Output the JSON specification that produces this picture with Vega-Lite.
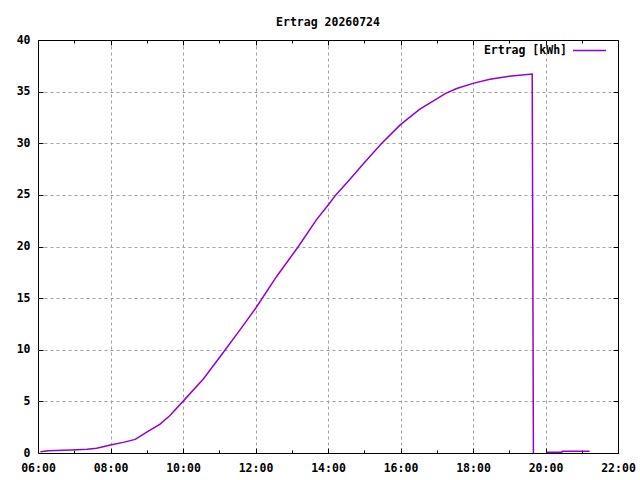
{
  "$schema": "https://vega.github.io/schema/vega-lite/v6.json",
  "width": 580,
  "height": 413,
  "autosize": "none",
  "padding": {"left": 38, "top": 40, "right": 22, "bottom": 27},
  "background": "white",
  "title": {"text": "Ertrag 20260724", "font": "DejaVu Sans Mono", "fontSize": 11.5, "fontWeight": "bold", "color": "black", "offset": -4, "baseline": "alphabetic", "anchor": "middle", "frame": "group"},
  "config": {
    "view": {"stroke": "black", "strokeWidth": 1},
    "axis": {
      "labelFont": "DejaVu Sans Mono", "labelFontSize": 11.5, "labelFontWeight": "bold", "labelColor": "black",
      "tickColor": "black", "tickWidth": 1, "domain": false, "gridColor": "#a0a0a0", "gridDash": [3, 3], "gridWidth": 1, "title": null
    }
  },
  "data": {"values": [
    {"t": "2026-07-24T06:04", "v": 0.13, "seg": 1},
    {"t": "2026-07-24T06:17", "v": 0.22, "seg": 1},
    {"t": "2026-07-24T06:56", "v": 0.30, "seg": 1},
    {"t": "2026-07-24T07:21", "v": 0.36, "seg": 1},
    {"t": "2026-07-24T07:37", "v": 0.45, "seg": 1},
    {"t": "2026-07-24T08:00", "v": 0.77, "seg": 1},
    {"t": "2026-07-24T08:21", "v": 1.03, "seg": 1},
    {"t": "2026-07-24T08:41", "v": 1.32, "seg": 1},
    {"t": "2026-07-24T09:00", "v": 2.03, "seg": 1},
    {"t": "2026-07-24T09:22", "v": 2.8, "seg": 1},
    {"t": "2026-07-24T09:38", "v": 3.6, "seg": 1},
    {"t": "2026-07-24T10:00", "v": 5.0, "seg": 1},
    {"t": "2026-07-24T10:34", "v": 7.2, "seg": 1},
    {"t": "2026-07-24T11:10", "v": 10.0, "seg": 1},
    {"t": "2026-07-24T11:34", "v": 11.9, "seg": 1},
    {"t": "2026-07-24T12:00", "v": 14.0, "seg": 1},
    {"t": "2026-07-24T12:35", "v": 17.1, "seg": 1},
    {"t": "2026-07-24T13:11", "v": 20.0, "seg": 1},
    {"t": "2026-07-24T13:41", "v": 22.6, "seg": 1},
    {"t": "2026-07-24T14:00", "v": 24.0, "seg": 1},
    {"t": "2026-07-24T14:13", "v": 25.0, "seg": 1},
    {"t": "2026-07-24T14:36", "v": 26.5, "seg": 1},
    {"t": "2026-07-24T15:00", "v": 28.1, "seg": 1},
    {"t": "2026-07-24T15:29", "v": 30.0, "seg": 1},
    {"t": "2026-07-24T16:00", "v": 31.8, "seg": 1},
    {"t": "2026-07-24T16:32", "v": 33.3, "seg": 1},
    {"t": "2026-07-24T17:00", "v": 34.3, "seg": 1},
    {"t": "2026-07-24T17:14", "v": 34.8, "seg": 1},
    {"t": "2026-07-24T17:33", "v": 35.3, "seg": 1},
    {"t": "2026-07-24T18:00", "v": 35.8, "seg": 1},
    {"t": "2026-07-24T18:28", "v": 36.2, "seg": 1},
    {"t": "2026-07-24T19:00", "v": 36.5, "seg": 1},
    {"t": "2026-07-24T19:38", "v": 36.7, "seg": 1},
    {"t": "2026-07-24T19:39", "v": 18.4, "seg": 1},
    {"t": "2026-07-24T19:40", "v": 0, "seg": 1},
    {"t": "2026-07-24T20:02", "v": 0.07, "seg": 2},
    {"t": "2026-07-24T20:27", "v": 0.07, "seg": 2},
    {"t": "2026-07-24T20:28", "v": 0.17, "seg": 2},
    {"t": "2026-07-24T21:13", "v": 0.17, "seg": 2}
  ]},
  "layer": [
    {
      "mark": {"type": "line", "strokeWidth": 1.5, "clip": true},
      "encoding": {
        "x": {"field": "t", "type": "temporal",
          "scale": {"domain": [{"year": 2026, "month": 7, "date": 24, "hours": 6}, {"year": 2026, "month": 7, "date": 24, "hours": 22}]},
          "axis": {"orient": "bottom",
            "values": [
              {"year": 2026, "month": 7, "date": 24, "hours": 6}, {"year": 2026, "month": 7, "date": 24, "hours": 7},
              {"year": 2026, "month": 7, "date": 24, "hours": 8}, {"year": 2026, "month": 7, "date": 24, "hours": 9},
              {"year": 2026, "month": 7, "date": 24, "hours": 10}, {"year": 2026, "month": 7, "date": 24, "hours": 11},
              {"year": 2026, "month": 7, "date": 24, "hours": 12}, {"year": 2026, "month": 7, "date": 24, "hours": 13},
              {"year": 2026, "month": 7, "date": 24, "hours": 14}, {"year": 2026, "month": 7, "date": 24, "hours": 15},
              {"year": 2026, "month": 7, "date": 24, "hours": 16}, {"year": 2026, "month": 7, "date": 24, "hours": 17},
              {"year": 2026, "month": 7, "date": 24, "hours": 18}, {"year": 2026, "month": 7, "date": 24, "hours": 19},
              {"year": 2026, "month": 7, "date": 24, "hours": 20}, {"year": 2026, "month": 7, "date": 24, "hours": 21},
              {"year": 2026, "month": 7, "date": 24, "hours": 22}
            ],
            "labelExpr": "hours(datum.value) % 2 == 0 ? timeFormat(datum.value, '%H:%M') : ''",
            "labelBaseline": "alphabetic", "labelPadding": 23, "labelFlush": false, "labelOverlap": false,
            "tickSize": {"condition": {"test": "hours(datum.value) % 2 == 1", "value": -3}, "value": -5},
            "grid": true,
            "gridOpacity": {"condition": {"test": "hours(datum.value) % 2 == 1 || hours(datum.value) == 6 || hours(datum.value) == 22", "value": 0}, "value": 1}
          }
        },
        "y": {"field": "v", "type": "quantitative",
          "scale": {"domain": [0, 40], "nice": false, "zero": true},
          "axis": {"orient": "left", "values": [0, 5, 10, 15, 20, 25, 30, 35, 40], "format": "d",
            "tickSize": -5, "labelPadding": 13, "grid": true,
            "gridOpacity": {"condition": {"test": "datum.value == 0 || datum.value == 40", "value": 0}, "value": 1}
          }
        },
        "detail": {"field": "seg"},
        "color": {"datum": "Ertrag [kWh]", "type": "nominal",
          "scale": {"range": ["#9400d3"]},
          "legend": {"orient": "none", "legendX": 534, "legendY": -7, "title": null, "symbolType": "stroke",
            "symbolSize": 1089, "symbolStrokeWidth": 1.5, "labelOffset": -40, "labelAlign": "right",
            "labelFont": "DejaVu Sans Mono", "labelFontSize": 11.5, "labelFontWeight": "bold", "labelColor": "black", "padding": 0}
        }
      }
    },
    {
      "mark": {"type": "line", "opacity": 0},
      "encoding": {
        "x": {"field": "t", "type": "temporal",
          "axis": {"orient": "top",
            "values": [
              {"year": 2026, "month": 7, "date": 24, "hours": 6}, {"year": 2026, "month": 7, "date": 24, "hours": 7},
              {"year": 2026, "month": 7, "date": 24, "hours": 8}, {"year": 2026, "month": 7, "date": 24, "hours": 9},
              {"year": 2026, "month": 7, "date": 24, "hours": 10}, {"year": 2026, "month": 7, "date": 24, "hours": 11},
              {"year": 2026, "month": 7, "date": 24, "hours": 12}, {"year": 2026, "month": 7, "date": 24, "hours": 13},
              {"year": 2026, "month": 7, "date": 24, "hours": 14}, {"year": 2026, "month": 7, "date": 24, "hours": 15},
              {"year": 2026, "month": 7, "date": 24, "hours": 16}, {"year": 2026, "month": 7, "date": 24, "hours": 17},
              {"year": 2026, "month": 7, "date": 24, "hours": 18}, {"year": 2026, "month": 7, "date": 24, "hours": 19},
              {"year": 2026, "month": 7, "date": 24, "hours": 20}, {"year": 2026, "month": 7, "date": 24, "hours": 21},
              {"year": 2026, "month": 7, "date": 24, "hours": 22}
            ],
            "labels": false, "grid": false,
            "tickSize": {"condition": {"test": "hours(datum.value) % 2 == 1", "value": -3}, "value": -5}
          }
        },
        "y": {"field": "v", "type": "quantitative",
          "axis": {"orient": "right", "values": [0, 5, 10, 15, 20, 25, 30, 35, 40], "labels": false, "grid": false, "tickSize": -5}
        },
        "detail": {"field": "seg"}
      }
    }
  ],
  "resolve": {"axis": {"x": "independent", "y": "independent"}}
}
